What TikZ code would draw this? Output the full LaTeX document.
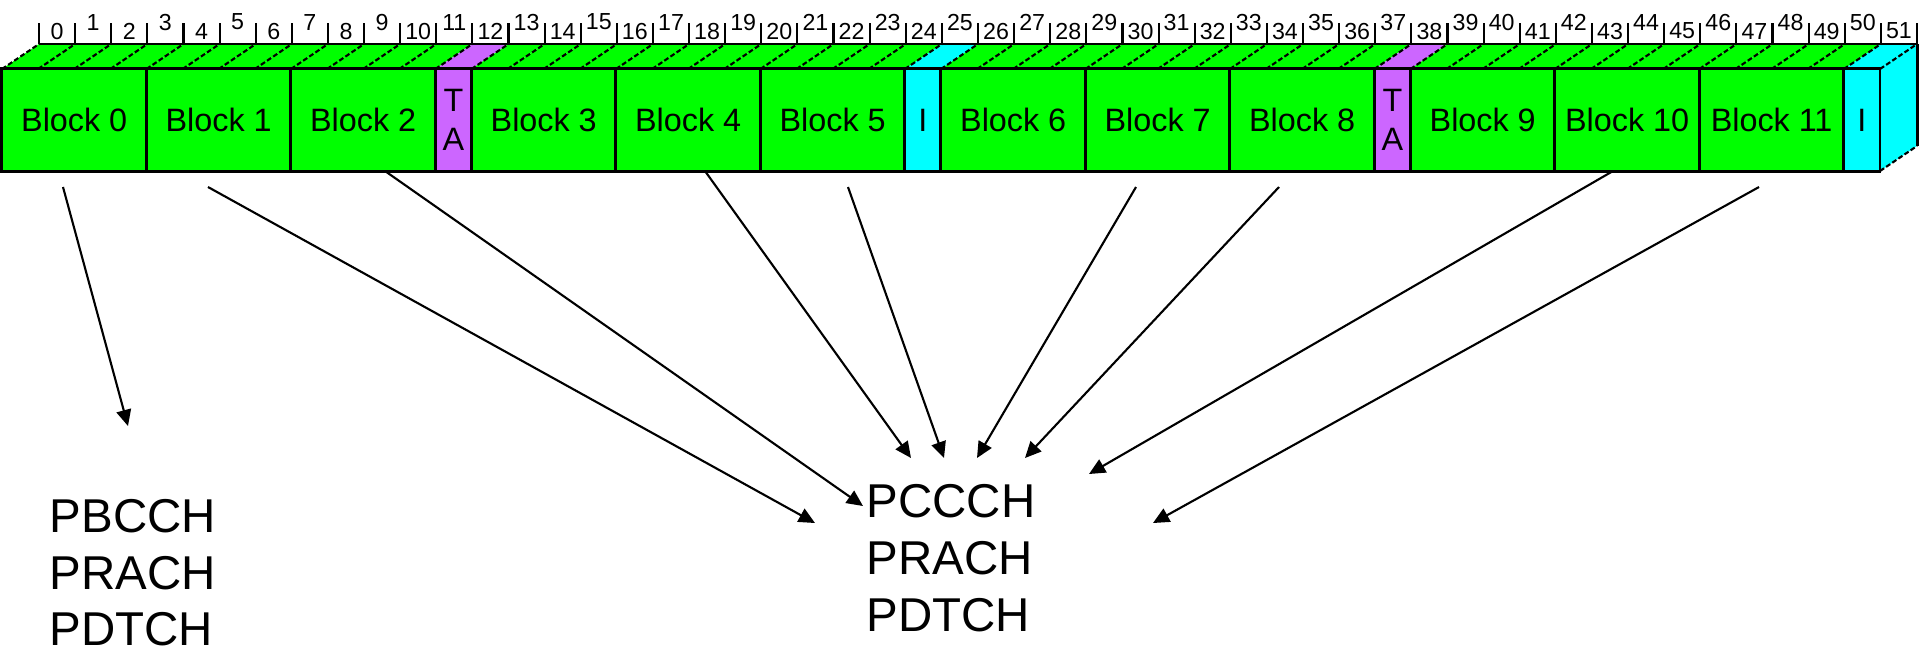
\documentclass[tikz,border=0pt]{standalone}
\usepackage{fontspec}
\setmainfont{Liberation Sans}
\usetikzlibrary{arrows.meta}
\definecolor{slotgreen}{RGB}{0,255,0}
\definecolor{slotpurple}{RGB}{204,102,255}
\definecolor{slotcyan}{RGB}{0,255,255}
\tikzset{
  slot/.style={draw=black, line width=0.85pt, minimum height=1.02cm, inner sep=0pt,
    align=center, font=\fontsize{9.2}{11.1}\selectfont},
  slant/.style={line width=0.6pt, dash pattern=on 1.4pt off 0.7pt},
  rulerline/.style={line width=0.6pt},
  tnum/.style={inner sep=0pt, font=\fontsize{6.6}{7}\selectfont},
  conn/.style={line width=0.6pt, -{Triangle[length=4.6pt,width=4.2pt]}},
  chan/.style={inner sep=0pt, anchor=base west, font=\fontsize{13.5}{16}\selectfont}
}
\begin{document}
\begin{tikzpicture}[x=0.01cm, y=-0.01cm]
\useasboundingbox (0,0) rectangle (1920,650);

% top face of the multiframe, one parallelogram per TDMA frame
\foreach \k in {0,...,51}{
  \def\tc{slotgreen}
  \ifnum\k=12 \def\tc{slotpurple}\fi
  \ifnum\k=38 \def\tc{slotpurple}\fi
  \ifnum\k=25 \def\tc{slotcyan}\fi
  \ifnum\k=51 \def\tc{slotcyan}\fi
  \fill[\tc] ({2+\k*36.115},69) -- ++(37,-25) -- ++(36.115,0) -- ++(-37,25) -- cycle;
}
% frame separators on the top face
\foreach \k in {0,...,51}{
  \draw[slant] ({2+\k*36.115},69) -- ++(37,-25);
}
% right side face of the last idle frame
\fill[slotcyan] (1880,69) -- (1917,44) -- (1917,146) -- (1880,171) -- cycle;
\draw[slant] (1880,69) -- (1917,44);
\draw[slant] (1880,171) -- (1917,146);
\draw[line width=0.85pt] (1917,44) -- (1917,146);

% front face: radio blocks, timing advance and idle frames
\foreach \s/\n/\lab/\nm/\col in {
  0/4/{Block 0}/b0/slotgreen, 4/4/{Block 1}/b1/slotgreen, 8/4/{Block 2}/b2/slotgreen,
  12/1/{T\\A}/ta1/slotpurple,
  13/4/{Block 3}/b3/slotgreen, 17/4/{Block 4}/b4/slotgreen, 21/4/{Block 5}/b5/slotgreen,
  25/1/{I}/id1/slotcyan,
  26/4/{Block 6}/b6/slotgreen, 30/4/{Block 7}/b7/slotgreen, 34/4/{Block 8}/b8/slotgreen,
  38/1/{T\\A}/ta2/slotpurple,
  39/4/{Block 9}/b9/slotgreen, 43/4/{Block 10}/b10/slotgreen, 47/4/{Block 11}/b11/slotgreen,
  51/1/{I}/id2/slotcyan}{
  \node[slot, fill=\col, minimum width=\n*0.36115cm] (\nm) at ({2+(\s+\n/2)*36.115},120) {\lab};
}

% frame numbering ruler
\draw[rulerline] (39,44) -- (1917,44);
\foreach \k in {0,...,52}{
  \draw[rulerline] ({39+\k*36.115},44) -- ++(0,-21);
}
\foreach \k in {0,...,51}{
  \pgfmathtruncatemacro\hi{(\k<40)*mod(\k,2) + (\k>=40)*(1-mod(\k,2))}
  \pgfmathsetmacro\ly{31-9*\hi}
  \node[tnum] (n\k) at ({39+(\k+0.5)*36.115},\ly) {\k};
}

% logical channel labels
\node[chan] (pbcch) at (49,532) {PBCCH};
\node[chan] (prachA) at (49,589) {PRACH};
\node[chan] (pdtchA) at (49,645) {PDTCH};
\node[chan] (pccch) at (866,517) {PCCCH};
\node[chan] (prachB) at (866,574) {PRACH};
\node[chan] (pdtchB) at (866,631) {PDTCH};

% mapping arrows
\coordinate (s1) at (63,187);   \coordinate (e1) at (128,426);
\coordinate (s2) at (208,187);  \coordinate (e2) at (815,523);
\coordinate (s3) at (385,171);  \coordinate (e3) at (863,506);
\coordinate (s4) at (705,171);  \coordinate (e4) at (911,458);
\coordinate (s5) at (848,187);  \coordinate (e5) at (944,458);
\coordinate (s6) at (1136,187); \coordinate (e6) at (977,458);
\coordinate (s7) at (1279,187); \coordinate (e7) at (1025,458);
\coordinate (s8) at (1613,171); \coordinate (e8) at (1089,474);
\coordinate (s9) at (1759,187); \coordinate (e9) at (1153,523);
\foreach \i in {1,...,9}{
  \draw[conn] (s\i) -- (e\i);
}
\end{tikzpicture}
\end{document}
